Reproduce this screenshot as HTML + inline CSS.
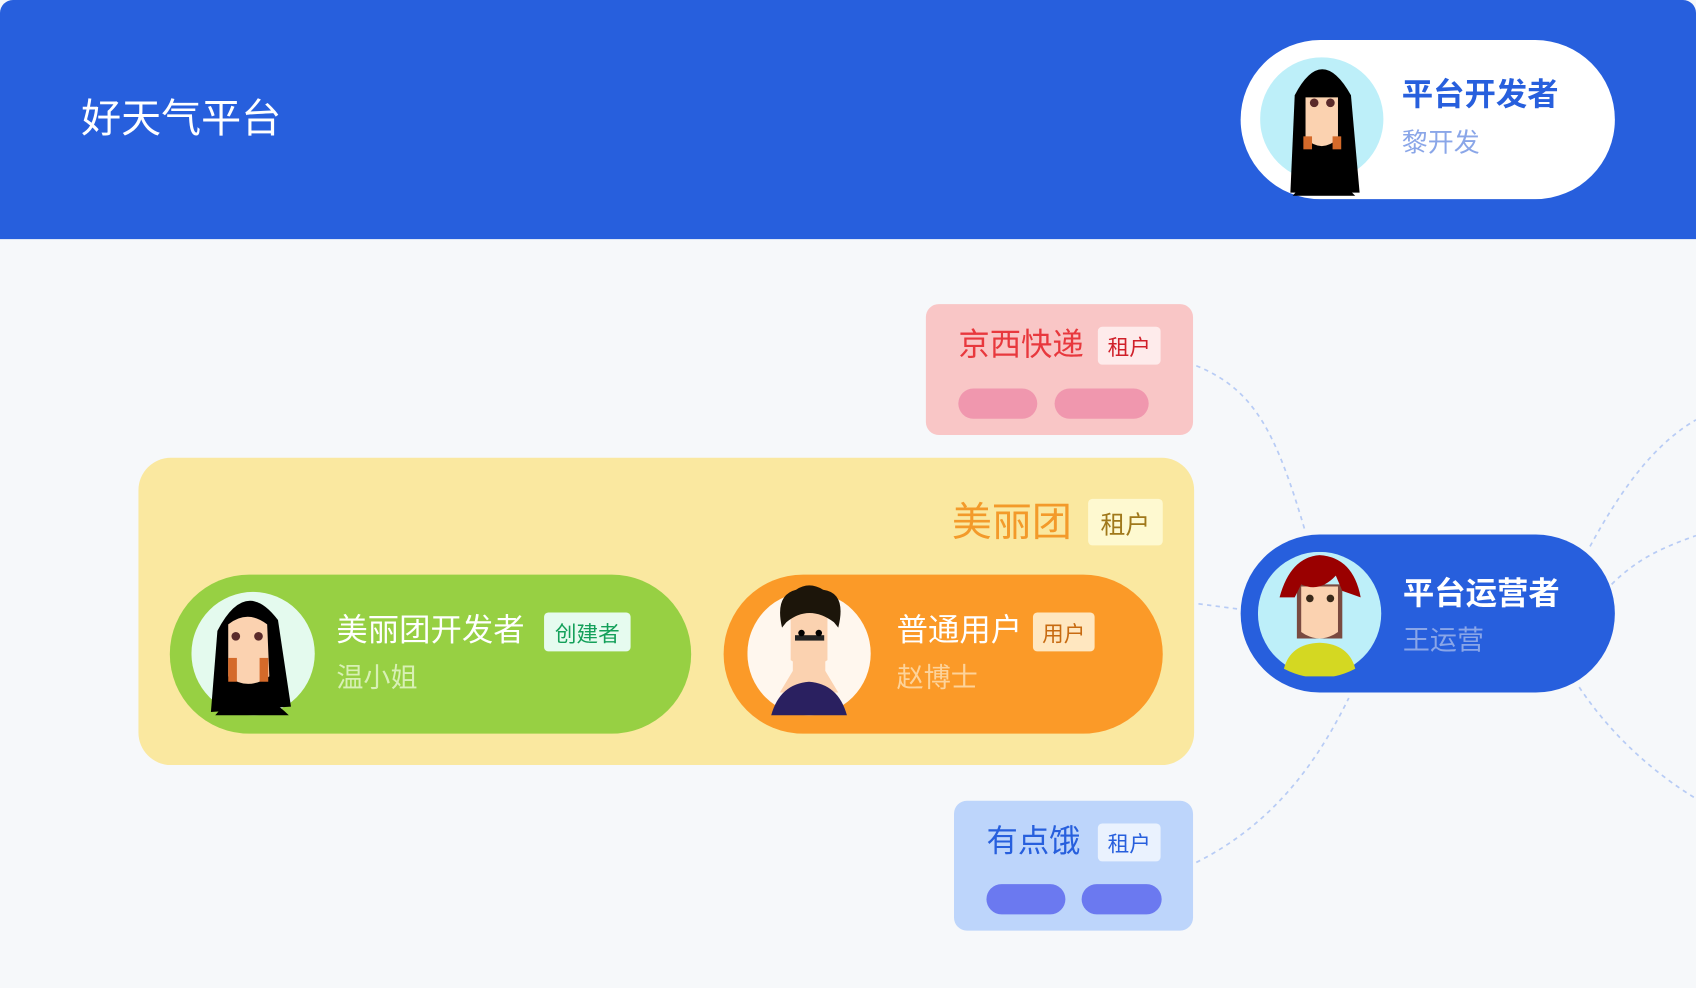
<!DOCTYPE html>
<html><head><meta charset="utf-8"><style>
*{margin:0;padding:0;box-sizing:border-box}
html,body{width:1696px;height:988px;overflow:hidden;background:#F6F8FA}
#s{position:absolute;left:0;top:0;width:1568px;height:913px;transform:scale(1.08163,1.0821);transform-origin:0 0;font-family:"Liberation Sans","Noto Sans CJK SC",sans-serif;background:#F6F8FA}
.a{position:absolute}
.t{position:absolute;white-space:nowrap;line-height:1}
.badge{position:absolute;border-radius:4px;display:flex;align-items:center;justify-content:center;font-size:20px}
.pill{position:absolute;border-radius:8px}
</style></head><body><div id="s">
<div class="a" style="left:0;top:0;width:1568px;height:221px;background:#275FDD;border-radius:12px 12px 0 0"></div>
<div class="t" style="left:75px;top:91px;font-size:37px;color:#fff">好天气平台</div>

<svg class="a" style="left:0;top:0" width="1568" height="913">
<g fill="none" stroke="#B8CCF5" stroke-width="1.6" stroke-dasharray="4 4">
<path d="M1106 338 C1160 360,1180 400,1207 492"/>
<path d="M1108 558 L1146 563"/>
<path d="M1106 797 C1180 760,1220 700,1247 645"/>
<path d="M1470 505 C1500 450,1530 410,1568 388"/>
<path d="M1490 540 C1515 515,1540 505,1568 495"/>
<path d="M1460 635 C1490 680,1530 715,1568 738"/>
</g>
</svg>

<div class="a" style="left:1147px;top:37px;width:346px;height:147px;border-radius:74px;background:#fff"></div>
<svg class="a" style="left:1165px;top:48px" width="115" height="133" viewBox="0 0 115 133">
<circle cx="57" cy="62" r="57" fill="#BDEFF9"/>
<path d="M28 130 L32 40 Q57 -8 84 40 L92 130 Z" fill="#000"/>
<path d="M42 40 L72 40 L72 80 Q57 94 42 80 Z" fill="#FBD2B0"/>
<rect x="40" y="78" width="8" height="12" fill="#D46A2A"/><rect x="67" y="78" width="8" height="12" fill="#D46A2A"/>
<circle cx="50" cy="47" r="4" fill="#5a2a2a"/><circle cx="65" cy="47" r="4" fill="#5a2a2a"/>
<path d="M36 35 Q57 15 80 35 L80 42 L36 42Z" fill="#000"/>
<path d="M30 133 Q57 100 88 133Z" fill="#000"/>
</svg>
<div class="t" style="left:1296px;top:74px;font-size:29px;font-weight:bold;color:#275FDD">平台开发者</div>
<div class="t" style="left:1296px;top:121px;font-size:24px;color:#8AA6E8">黎开发</div>

<div class="a" style="left:856px;top:281px;width:247px;height:121px;border-radius:12px;background:#F9C6C6"></div>
<div class="t" style="left:886px;top:305px;font-size:29px;color:#E8383D">京西快递</div>
<div class="badge" style="left:1015px;top:302px;width:58px;height:35px;background:#FEEBEB;color:#D0202A">租户</div>
<div class="pill" style="left:886px;top:359px;width:73px;height:28px;border-radius:14px;background:#F097AE"></div>
<div class="pill" style="left:975px;top:359px;width:87px;height:28px;border-radius:14px;background:#F097AE"></div>

<div class="a" style="left:128px;top:423px;width:976px;height:284px;border-radius:30px;background:#FAE8A0"></div>
<div class="t" style="left:880px;top:464px;font-size:37px;color:#F39A2A">美丽团</div>
<div class="badge" style="left:1006px;top:461px;width:69px;height:43px;background:#FEF9D0;color:#A0781A;font-size:23px">租户</div>

<div class="a" style="left:157px;top:531px;width:482px;height:147px;border-radius:74px;background:#97D043"></div>
<svg class="a" style="left:177px;top:543px" width="115" height="120" viewBox="0 0 115 120">
<circle cx="57" cy="61" r="57" fill="#E4FAEE"/>
<path d="M18 115 L24 40 Q50 -10 80 30 L92 110 Z" fill="#000"/>
<path d="M34 34 Q52 20 70 34 L72 82 Q52 96 34 82 Z" fill="#FBD2B0"/>
<rect x="34" y="65" width="8" height="22" fill="#D46A2A"/><rect x="63" y="65" width="8" height="22" fill="#D46A2A"/>
<circle cx="41" cy="45" r="4" fill="#5a2a2a"/><circle cx="62" cy="45" r="4" fill="#5a2a2a"/>
<path d="M22 118 Q52 80 90 118Z" fill="#000"/>
</svg>
<div class="t" style="left:311px;top:569px;font-size:29px;color:#fff">美丽团开发者</div>
<div class="badge" style="left:503px;top:566px;width:80px;height:36px;background:#E6FBEF;color:#14A05A">创建者</div>
<div class="t" style="left:311px;top:615px;font-size:25px;color:#D8F0B5">温小姐</div>

<div class="a" style="left:669px;top:531px;width:406px;height:147px;border-radius:74px;background:#FB9A28"></div>
<svg class="a" style="left:691px;top:540px" width="115" height="123" viewBox="0 0 115 123">
<circle cx="57" cy="64" r="57" fill="#FFF7EE"/>
<path d="M30 100 L42 80 L42 60 L72 60 L72 80 L84 100 Z" fill="#FBD2B0"/>
<path d="M40 25 L74 25 L74 70 Q57 82 40 70Z" fill="#FBD2B0"/>
<path d="M22 121 Q30 92 57 90 Q84 92 92 121Z" fill="#2A2060"/>
<path d="M32 40 Q25 10 45 5 Q57 -3 70 5 Q92 8 84 40 L80 35 Q57 18 36 35Z" fill="#1C150A"/>
<rect x="44" y="47" width="27" height="5" fill="#222"/><circle cx="50" cy="45" r="3" fill="#000"/><circle cx="66" cy="45" r="3" fill="#000"/>
</svg>
<div class="t" style="left:829px;top:569px;font-size:29px;color:#fff">普通用户</div>
<div class="badge" style="left:955px;top:566px;width:57px;height:36px;background:#FFE7C0;color:#C76A10">用户</div>
<div class="t" style="left:829px;top:615px;font-size:25px;color:#FDD39A">赵博士</div>

<div class="a" style="left:882px;top:740px;width:221px;height:120px;border-radius:12px;background:#BDD5FB"></div>
<div class="t" style="left:912px;top:764px;font-size:29px;color:#275FDD">有点饿</div>
<div class="badge" style="left:1015px;top:761px;width:58px;height:35px;background:#EAF2FE;color:#275FDD">租户</div>
<div class="pill" style="left:912px;top:817px;width:73px;height:28px;border-radius:14px;background:#6B79F0"></div>
<div class="pill" style="left:1000px;top:817px;width:74px;height:28px;border-radius:14px;background:#6B79F0"></div>

<div class="a" style="left:1147px;top:494px;width:346px;height:146px;border-radius:73px;background:#275FDD"></div>
<svg class="a" style="left:1163px;top:510px" width="115" height="115" viewBox="0 0 115 115">
<circle cx="57" cy="57" r="57" fill="#BDEFF9"/>
<path d="M36 30 L36 80 L78 80 L78 30Z" fill="#7A4A40"/>
<path d="M40 32 L74 32 L74 74 Q57 86 40 74Z" fill="#FBD2B0"/>
<path d="M24 108 Q30 85 57 84 Q84 85 90 108 Q57 125 24 108Z" fill="#D4D822"/>
<path d="M20 42 Q30 5 57 3 Q88 5 95 42 L78 36 L72 22 Q57 38 40 30 L34 42Z" fill="#9A0000"/>
<circle cx="48" cy="43" r="3.5" fill="#3a2a1a"/><circle cx="67" cy="43" r="3.5" fill="#3a2a1a"/>
</svg>
<div class="t" style="left:1297px;top:535px;font-size:29px;font-weight:bold;color:#fff">平台运营者</div>
<div class="t" style="left:1297px;top:580px;font-size:25px;color:#8AA6E8">王运营</div>
</div></body></html>
